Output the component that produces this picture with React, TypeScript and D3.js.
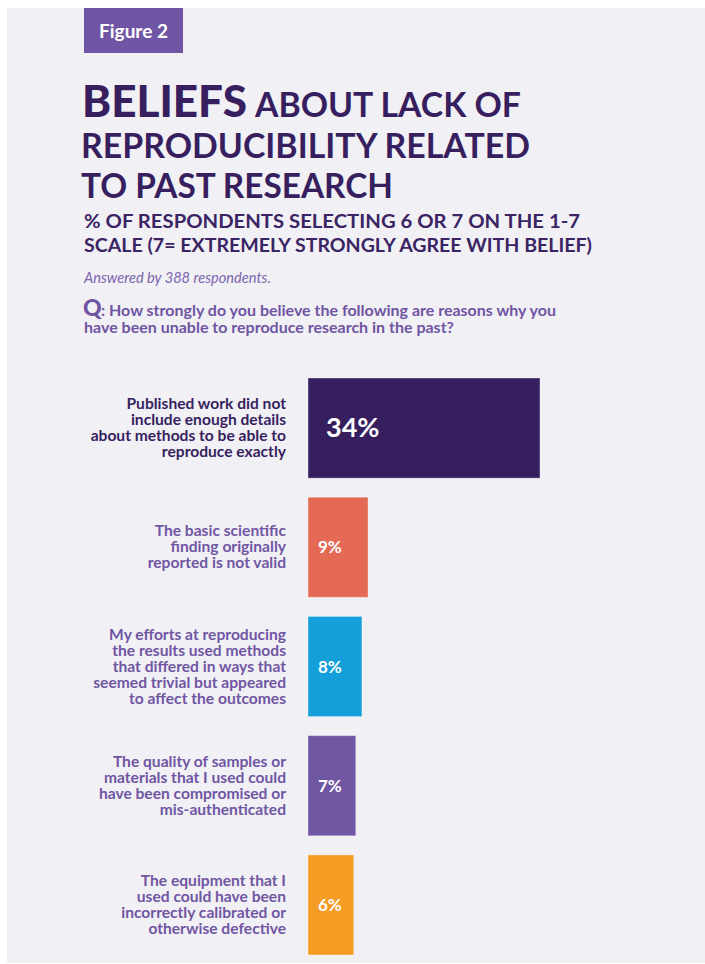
import React from "react";
import * as d3 from "d3";

const categories: string[][] = [
  ["Published work did not", "include enough details", "about methods to be able to", "reproduce exactly"],
  ["The basic scientific", "finding originally", "reported is not valid"],
  ["My efforts at reproducing", "the results used methods", "that differed in ways that", "seemed trivial but appeared", "to affect the outcomes"],
  ["The quality of samples or", "materials that I used could", "have been compromised or", "mis-authenticated"],
  ["The equipment that I", "used could have been", "incorrectly calibrated or", "otherwise defective"],
];
// bar lengths (percent of respondents)
const values: number[] = [34, 8.8, 7.9, 7.0, 6.7];
const valueLabels: string[] = ["34%", "9%", "8%", "7%", "6%"];
const barColors: string[] = ["#371f5f", "#e56a55", "#149fda", "#7056a3", "#f59c25"];
const labelColors: string[] = ["#371f5f", "#7056a3", "#7056a3", "#7056a3", "#7056a3"];

const FONT = "Lato, 'Open Sans', sans-serif";
const DARK = "#371f5f";
const PURPLE = "#6f55a3";

export default function App() {
  const W = 705, H = 964;
  const x = d3.scaleLinear().domain([0, 34]).range([308, 540]);
  const y = d3
    .scaleBand<number>()
    .domain(values.map((_, i) => i))
    .range([378, 955])
    .paddingInner(0.16)
    .paddingOuter(0);

  return (
    <svg width={W} height={H} style={{ position: "absolute", left: 0, top: 0 }} fontFamily={FONT}>
      <rect x={7} y={8} width={W - 7} height={H - 9} fill="#f1f0f5" />
      {/* Figure tag */}
      <rect x={84} y={8} width={99} height={45} fill="#7055a4" />
      <text x={133.5} y={38} textAnchor="middle" fill="#fff" fontSize={19} fontWeight={700}>Figure 2</text>

      {/* Title */}
      <text x={82} y={117} fill={DARK} fontWeight={900} fontSize={44} textLength={165} lengthAdjust="spacingAndGlyphs">BELIEFS</text>
      <text x={255} y={117} fill={DARK} fontWeight={700} fontSize={34} textLength={266} lengthAdjust="spacingAndGlyphs">ABOUT LACK OF</text>
      <text x={81} y={158} fill={DARK} fontWeight={700} fontSize={34} textLength={449} lengthAdjust="spacingAndGlyphs">REPRODUCIBILITY RELATED</text>
      <text x={81} y={198} fill={DARK} fontWeight={700} fontSize={34} textLength={312} lengthAdjust="spacingAndGlyphs">TO PAST RESEARCH</text>

      {/* Subtitle */}
      <text x={84} y={228} fill="#3b2464" fontWeight={700} fontSize={19} textLength={496} lengthAdjust="spacingAndGlyphs">% OF RESPONDENTS SELECTING 6 OR 7 ON THE 1-7</text>
      <text x={84} y={252} fill="#3b2464" fontWeight={700} fontSize={19} textLength={508} lengthAdjust="spacingAndGlyphs">SCALE (7= EXTREMELY STRONGLY AGREE WITH BELIEF)</text>

      <text x={84} y={283} fill="#7b64ad" fontStyle="italic" fontSize={14.6}>Answered by 388 respondents.</text>

      <text x={83} y={316} fill={PURPLE} fontWeight={900} fontSize={23}>Q</text>
      <text x={101} y={316} fill={PURPLE} fontWeight={700} fontSize={16}>: How strongly do you believe the following are reasons why you</text>
      <text x={84} y={333} fill={PURPLE} fontWeight={700} fontSize={16}>have been unable to reproduce research in the past?</text>

      {values.map((v, i) => {
        const y0 = y(i)!;
        const bh = y.bandwidth();
        const cy = y0 + bh / 2;
        const lines = categories[i];
        const lh = 16;
        const startY = cy - ((lines.length - 1) * lh) / 2 + 5;
        const wide = x(v) - x(0) > 100;
        return (
          <g key={i}>
            <rect x={x(0)} y={y0} width={x(v) - x(0)} height={bh} fill={barColors[i]} stroke="#ffffff" strokeOpacity={0.35} strokeWidth={1} />
            <text x={x(0) + (wide ? 18 : 10)} y={cy + (wide ? 9 : 6)} fill="#fff" fontWeight={700} fontSize={wide ? 27 : 17}>
              {valueLabels[i]}
            </text>
            <text textAnchor="end" fill={labelColors[i]} fontWeight={700} fontSize={15.6}>
              {lines.map((l, j) => (
                <tspan key={j} x={286} y={startY + j * lh}>{l}</tspan>
              ))}
            </text>
          </g>
        );
      })}
    </svg>
  );
}
